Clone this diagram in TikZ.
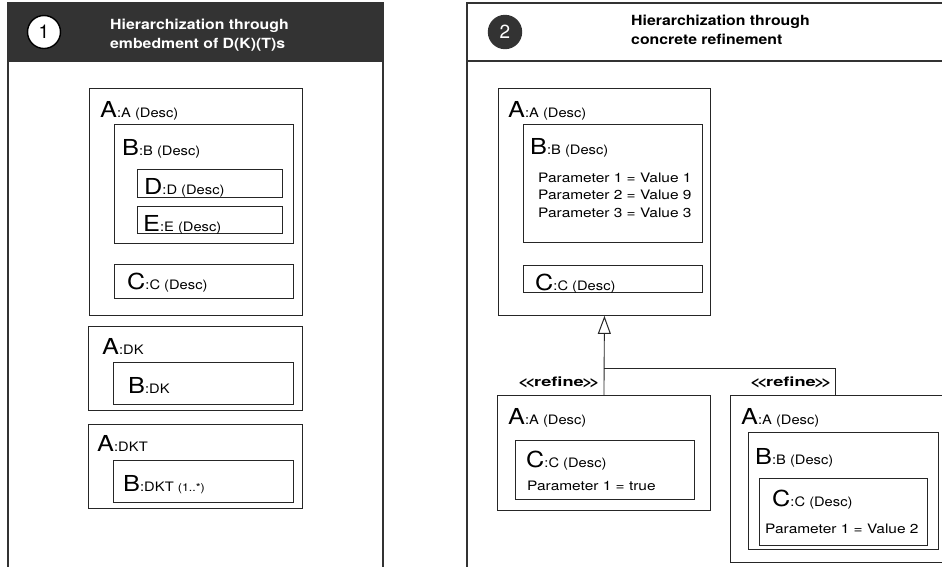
\documentclass[tikz,border=0pt]{standalone}
\usepackage{fontspec}
\usepackage{graphicx}
\setmainfont{TeX Gyre Heros}
\usetikzlibrary{arrows.meta}
\definecolor{hdr}{HTML}{333333}
% horizontally widened text
\newcommand{\wide}[2][1.13]{\scalebox{#1}[1]{#2}}
% class label: large initial followed by the smaller type text
\newcommand{\clslbl}[2]{{\fontsize{22}{22}\selectfont\wide[1.15]{#1}}{\fontsize{13}{13}\selectfont\wide{#2}}}
\newcommand{\partxt}[1]{{\fontsize{13}{13}\selectfont\wide[1.19]{#1}}}
\newcommand{\refinetxt}{\wide[1.4]{<\kern-2.6pt<\kern-1.2pt refine\kern-1.2pt>\kern-2.6pt>}}

\begin{document}
\begin{tikzpicture}[x=1pt,y=-1pt,
  frame/.style={draw=hdr,line width=1.4pt},
  box/.style={draw=black!85,line width=0.9pt,anchor=north west,inner sep=0pt,fill=white},
  lbl/.style={anchor=base west,inner sep=0pt},
  head/.style={anchor=base west,inner sep=0pt,font=\bfseries\fontsize{14}{14}\selectfont},
  stereo/.style={anchor=base west,inner sep=0pt,font=\bfseries\fontsize{13}{13}\selectfont},
  numcirc/.style={circle,draw=black,line width=1.4pt,minimum size=33pt,inner sep=0pt,font=\fontsize{19}{19}\selectfont},
  conn/.style={draw=black!85,line width=0.9pt}]
\useasboundingbox (0,0) rectangle (942,566);
\clip (0,0) rectangle (942,566);
\fill[white] (0,0) rectangle (942,566);

% ---- panel 1 frame
\fill[hdr] (8,3) rectangle (383,61);
\draw[frame] (8,3) rectangle (383,620);
\draw[frame] (8,61) -- (383,61);
\node[numcirc,fill=white] (n1) at (44,32) {1};
\node[head,text=white] (h1a) at (110,29) {\wide{Hierarchization through}};
\node[head,text=white] (h1b) at (110,48.5) {\wide{embedment of D(K)(T)s}};

% ---- panel 2 frame
\draw[frame] (467,3) rectangle (990,620);
\draw[frame] (467,61) -- (990,61);
\node[numcirc,fill=hdr,draw=hdr,text=white] (n2) at (505,32) {2};
\node[head] (h2a) at (631,25) {\wide{Hierarchization through}};
\node[head] (h2b) at (631,44) {\wide{concrete refinement}};

% ---- panel 1 content
\node[box,minimum width=213pt,minimum height=227pt] (p1a) at (89,88) {};
\node[box,minimum width=179pt,minimum height=119pt] (p1b) at (114,124) {};
\node[box,minimum width=145pt,minimum height=28pt] (p1d) at (137,169) {};
\node[box,minimum width=145pt,minimum height=27pt] (p1e) at (137,206) {};
\node[box,minimum width=179pt,minimum height=34pt] (p1c) at (114,264) {};
\node[lbl] (l1a) at (100,117) {\clslbl{A}{:A (Desc)}};
\node[lbl] (l1b) at (122,155) {\clslbl{B}{:B (Desc)}};
\node[lbl] (l1d) at (144,194) {\clslbl{D}{:D (Desc)}};
\node[lbl] (l1e) at (143,231) {\clslbl{E}{:E (Desc)}};
\node[lbl] (l1c) at (127,289) {\clslbl{C}{:C (Desc)}};

\node[box,minimum width=214pt,minimum height=84pt] (p1dk) at (88,326) {};
\node[box,minimum width=180pt,minimum height=42pt] (p1dkb) at (113,362) {};
\node[lbl] (l1dk) at (102,354) {\clslbl{A}{:DK}};
\node[lbl] (l1dkb) at (128,393) {\clslbl{B}{:DK}};

\node[box,minimum width=214pt,minimum height=84pt] (p1dkt) at (88,424) {};
\node[box,minimum width=180pt,minimum height=42pt] (p1dktb) at (113,460) {};
\node[lbl] (l1dkt) at (97,451) {\clslbl{A}{:DKT}};
\node[lbl] (l1dktb) at (123,491) {\clslbl{B}{:DKT {\fontsize{11}{11}\selectfont(1..*)}}};

% ---- panel 2 content: refined element
\node[box,minimum width=212pt,minimum height=227pt] (p2a) at (498,88) {};
\node[box,minimum width=179pt,minimum height=118pt] (p2b) at (523,124) {};
\node[box,minimum width=179pt,minimum height=27pt] (p2c) at (523,265) {};
\node[lbl] (l2a) at (508,117) {\clslbl{A}{:A (Desc)}};
\node[lbl] (l2b) at (530,154) {\clslbl{B}{:B (Desc)}};
\node[lbl] (l2p1) at (538,182) {\partxt{Parameter 1 = Value 1}};
\node[lbl] (l2p2) at (538,199.5) {\partxt{Parameter 2 = Value 9}};
\node[lbl] (l2p3) at (538,217) {\partxt{Parameter 3 = Value 3}};
\node[lbl] (l2c) at (535,290) {\clslbl{C}{:C (Desc)}};

% ---- panel 2 content: refinements
\node[box,minimum width=213pt,minimum height=115pt] (p2l) at (497,395) {};
\node[box,minimum width=179pt,minimum height=59pt] (p2lc) at (515,440) {};
\node[lbl] (l2la) at (508,424) {\clslbl{A}{:A (Desc)}};
\node[lbl] (l2lc) at (526,467) {\clslbl{C}{:C (Desc)}};
\node[lbl] (l2lp) at (527,490) {\partxt{Parameter 1 = true}};

\node[box,minimum width=240pt,minimum height=167pt] (p2r) at (730,395) {};
\node[box,minimum width=190pt,minimum height=117pt] (p2rb) at (748,432) {};
\node[box,minimum width=168pt,minimum height=67pt] (p2rc) at (759,478) {};
\node[lbl] (l2ra) at (741,424) {\clslbl{A}{:A (Desc)}};
\node[lbl] (l2rb) at (755,464) {\clslbl{B}{:B (Desc)}};
\node[lbl] (l2rc) at (772,506) {\clslbl{C}{:C (Desc)}};
\node[lbl] (l2rp) at (765,533) {\partxt{Parameter 1 = Value 2}};

% ---- refinement connectors
\coordinate (jn) at (p2l.north |- 0,368);
\coordinate (rt) at (835,395);
\draw[conn,-{Triangle[open,fill=white,width=13pt,length=18pt,line width=1pt]}] (p2l.north) -- (p2a.south);
\draw[conn] (jn) -| (rt);
\node[stereo] (r1) at (518,386) {\refinetxt};
\node[stereo] (r2) at (750,386) {\refinetxt};
\end{tikzpicture}
\end{document}
